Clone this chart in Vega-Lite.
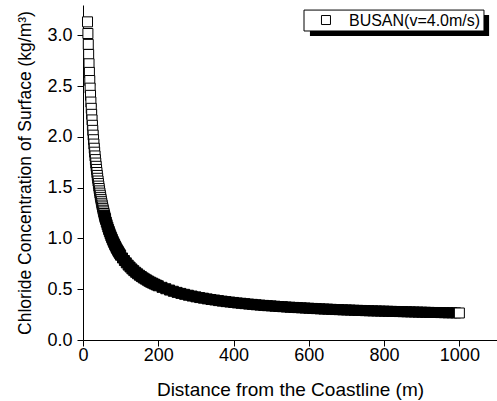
{
  "$schema": "https://vega.github.io/schema/vega-lite/v6.json",
  "width": 414,
  "height": 335,
  "autosize": "none",
  "padding": {"left": 83, "top": 5, "right": 0, "bottom": 61},
  "background": "white",
  "config": {
    "view": {"stroke": null},
    "font": "Liberation Sans",
    "axis": {
      "grid": false,
      "labelFont": "Liberation Sans",
      "titleFont": "Liberation Sans",
      "labelColor": "black",
      "titleColor": "black",
      "domainColor": "black",
      "domainWidth": 1,
      "tickColor": "black",
      "tickWidth": 1,
      "labelFontSize": 18,
      "titleFontWeight": "normal",
      "labelFlush": false,
      "labelOverlap": false
    }
  },
  "datasets": {
    "busan": [
      {"d":12,"c":3.134},{"d":13,"c":3.019},{"d":14,"c":2.912},{"d":15,"c":2.813},{"d":16,"c":2.721},
      {"d":17,"c":2.636},{"d":18,"c":2.556},{"d":19,"c":2.481},{"d":20,"c":2.41},{"d":21,"c":2.344},
      {"d":22,"c":2.282},{"d":23,"c":2.223},{"d":24,"c":2.168},{"d":25,"c":2.115},{"d":26,"c":2.065},
      {"d":27,"c":2.018},{"d":28,"c":1.973},{"d":29,"c":1.93},{"d":30,"c":1.889},{"d":31,"c":1.85},
      {"d":32,"c":1.813},{"d":33,"c":1.777},{"d":34,"c":1.743},{"d":35,"c":1.711},{"d":36,"c":1.68},
      {"d":37,"c":1.65},{"d":38,"c":1.621},{"d":39,"c":1.593},{"d":40,"c":1.566},{"d":41,"c":1.541},
      {"d":42,"c":1.516},{"d":43,"c":1.492},{"d":44,"c":1.469},{"d":45,"c":1.447},{"d":46,"c":1.426},
      {"d":47,"c":1.405},{"d":48,"c":1.385},{"d":49,"c":1.366},{"d":50,"c":1.347},{"d":51,"c":1.329},
      {"d":52,"c":1.311},{"d":53,"c":1.294},{"d":54,"c":1.278},{"d":55,"c":1.262},{"d":56,"c":1.246},
      {"d":57,"c":1.231},{"d":58,"c":1.216},{"d":59,"c":1.202},{"d":60,"c":1.188},
      {"d":62,"c":1.161},{"d":64,"c":1.136},{"d":66,"c":1.112},{"d":68,"c":1.089},{"d":70,"c":1.068},
      {"d":72,"c":1.047},{"d":74,"c":1.027},{"d":76,"c":1.009},{"d":78,"c":0.991},{"d":80,"c":0.973},
      {"d":82,"c":0.957},{"d":84,"c":0.941},{"d":86,"c":0.926},{"d":88,"c":0.911},{"d":90,"c":0.897},
      {"d":92,"c":0.884},{"d":94,"c":0.871},{"d":96,"c":0.859},{"d":98,"c":0.847},{"d":100,"c":0.835},
      {"d":105,"c":0.808},{"d":110,"c":0.783},{"d":115,"c":0.76},{"d":120,"c":0.738},{"d":125,"c":0.719},
      {"d":130,"c":0.7},{"d":135,"c":0.683},{"d":140,"c":0.667},{"d":145,"c":0.652},{"d":150,"c":0.638},
      {"d":155,"c":0.625},{"d":160,"c":0.612},{"d":165,"c":0.601},{"d":170,"c":0.59},{"d":175,"c":0.579},
      {"d":180,"c":0.569},{"d":185,"c":0.56},{"d":190,"c":0.551},{"d":195,"c":0.542},{"d":200,"c":0.534},
      {"d":210,"c":0.519},{"d":220,"c":0.505},{"d":230,"c":0.492},{"d":240,"c":0.48},{"d":250,"c":0.469},
      {"d":260,"c":0.459},{"d":270,"c":0.45},{"d":280,"c":0.441},{"d":290,"c":0.433},{"d":300,"c":0.425},
      {"d":310,"c":0.418},{"d":320,"c":0.412},{"d":330,"c":0.405},{"d":340,"c":0.399},{"d":350,"c":0.394},
      {"d":360,"c":0.388},{"d":370,"c":0.383},{"d":380,"c":0.378},{"d":390,"c":0.374},{"d":400,"c":0.37},
      {"d":410,"c":0.365},{"d":420,"c":0.362},{"d":430,"c":0.358},{"d":440,"c":0.354},{"d":450,"c":0.351},
      {"d":460,"c":0.347},{"d":470,"c":0.344},{"d":480,"c":0.341},{"d":490,"c":0.338},{"d":500,"c":0.336},
      {"d":510,"c":0.333},{"d":520,"c":0.33},{"d":530,"c":0.328},{"d":540,"c":0.325},{"d":550,"c":0.323},
      {"d":560,"c":0.321},{"d":570,"c":0.319},{"d":580,"c":0.317},{"d":590,"c":0.315},{"d":600,"c":0.313},
      {"d":610,"c":0.311},{"d":620,"c":0.309},{"d":630,"c":0.307},{"d":640,"c":0.305},{"d":650,"c":0.304},
      {"d":660,"c":0.302},{"d":670,"c":0.3},{"d":680,"c":0.299},{"d":690,"c":0.297},{"d":700,"c":0.296},
      {"d":710,"c":0.295},{"d":720,"c":0.293},{"d":730,"c":0.292},{"d":740,"c":0.291},{"d":750,"c":0.289},
      {"d":760,"c":0.288},{"d":770,"c":0.287},{"d":780,"c":0.286},{"d":790,"c":0.285},{"d":800,"c":0.284},
      {"d":810,"c":0.283},{"d":820,"c":0.282},{"d":830,"c":0.281},{"d":840,"c":0.28},{"d":850,"c":0.279},
      {"d":860,"c":0.278},{"d":870,"c":0.277},{"d":880,"c":0.276},{"d":890,"c":0.275},{"d":900,"c":0.274},
      {"d":910,"c":0.273},{"d":920,"c":0.272},{"d":930,"c":0.271},{"d":940,"c":0.271},{"d":950,"c":0.27},
      {"d":960,"c":0.269},{"d":970,"c":0.268},{"d":980,"c":0.268},{"d":990,"c":0.267},{"d":1000,"c":0.266}
    ]
  },
  "layer": [
    {
      "data": {"name": "busan"},
      "mark": {"type": "point", "shape": "square", "size": 100, "strokeWidth": 1, "opacity": 1, "stroke": "black", "filled": true},
      "encoding": {
        "x": {
          "field": "d", "type": "quantitative",
          "scale": {"domain": [0, 1100], "nice": false, "zero": false},
          "axis": {
            "title": "Distance from the Coastline (m)",
            "titleFontSize": 19,
            "titlePadding": 16,
            "values": [0,100,200,300,400,500,600,700,800,900,1000,1100],
            "labelExpr": "datum.value % 200 === 0 ? format(datum.value, 'd') : ''",
            "tickSize": {"condition": {"test": "datum.value % 200 === 0", "value": 6}, "value": 3},
            "labelPadding": 0
          }
        },
        "y": {
          "field": "c", "type": "quantitative",
          "scale": {"domain": [0, 3.3], "nice": false},
          "axis": {
            "title": "Chloride Concentration of Surface (kg/m³)",
            "titleFontSize": 17.5,
            "titlePadding": 12,
            "values": [0,0.25,0.5,0.75,1,1.25,1.5,1.75,2,2.25,2.5,2.75,3,3.25],
            "labelExpr": "round(datum.value*4) % 2 === 0 ? format(datum.value, '.1f') : ''",
            "tickSize": {"condition": {"test": "round(datum.value*4) % 2 === 0", "value": 6}, "value": 3},
            "labelPadding": 5
          }
        },
        "fill": {"condition": {"test": "datum.d >= 57 && datum.d < 1000", "value": "black"}, "value": "white"}
      }
    },
    {
      "data": {"values": [{}]},
      "mark": {"type": "rect", "color": "black"},
      "encoding": {
        "x": {"datum": 603, "type": "quantitative"},
        "x2": {"datum": 1079},
        "y": {"datum": 3.201, "type": "quantitative"},
        "y2": {"datum": 2.995}
      }
    },
    {
      "data": {"values": [{}]},
      "mark": {"type": "rect", "fill": "white", "stroke": "black", "strokeWidth": 1},
      "encoding": {
        "x": {"datum": 587.2, "type": "quantitative"},
        "x2": {"datum": 1065.4},
        "y": {"datum": 3.25, "type": "quantitative"},
        "y2": {"datum": 3.044}
      }
    },
    {
      "data": {"values": [{}]},
      "mark": {"type": "point", "shape": "square", "size": 81, "filled": true, "fill": "white", "stroke": "black", "strokeWidth": 1, "opacity": 1},
      "encoding": {
        "x": {"datum": 645.6, "type": "quantitative"},
        "y": {"datum": 3.152, "type": "quantitative"}
      }
    },
    {
      "data": {"values": [{"label": "BUSAN(v=4.0m/s)"}]},
      "mark": {"type": "text", "align": "left", "baseline": "middle", "fontSize": 16, "font": "Liberation Sans", "color": "black"},
      "encoding": {
        "x": {"datum": 706.7, "type": "quantitative"},
        "y": {"datum": 3.147, "type": "quantitative"},
        "text": {"field": "label"}
      }
    }
  ]
}
